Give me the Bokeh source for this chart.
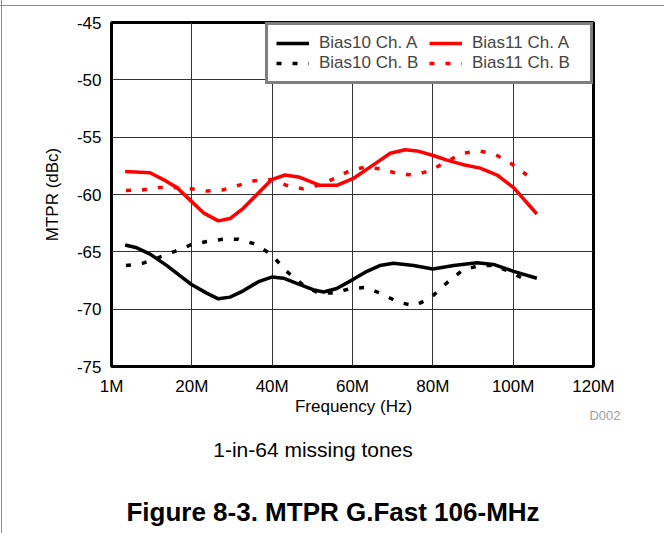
from bokeh.plotting import figure
from bokeh.models import FixedTicker, Legend, LegendItem, Label, Range1d
from bokeh.layouts import column
from bokeh.embed import file_html
from bokeh.resources import INLINE

# ---- data (frequency in MHz, MTPR in dBc) ----
b10a_x = [3.4, 6.3, 9.6, 13.8, 17.1, 19.9, 23.7, 26.6, 29.5, 32.8, 36.6, 39.9, 42.8, 46.9,
          50.2, 52.8, 56.1, 60.2, 63.6, 66.8, 70.2, 75.2, 80.0, 85.2, 91.0, 95.1, 100.1, 105.9]
b10a_y = [-64.4, -64.65, -65.2, -66.2, -67.1, -67.85, -68.6, -69.1, -68.95, -68.4, -67.6, -67.2,
          -67.3, -67.85, -68.3, -68.5, -68.2, -67.4, -66.7, -66.2, -66.0, -66.2, -66.5, -66.2,
          -65.95, -66.1, -66.7, -67.3]

b11a_x = [3.4, 9.6, 12.9, 16.3, 19.9, 22.9, 26.6, 29.5, 32.8, 36.2, 39.9, 43.2, 46.9, 51.9,
          56.1, 60.2, 66.1, 69.4, 73.1, 76.1, 80.1, 83.5, 87.6, 91.8, 96.0, 100.1, 105.9]
b11a_y = [-58.0, -58.1, -58.7, -59.4, -60.6, -61.6, -62.3, -62.1, -61.2, -60.0, -58.7, -58.3,
          -58.5, -59.2, -59.2, -58.6, -57.2, -56.4, -56.1, -56.2, -56.6, -57.0, -57.4, -57.7,
          -58.3, -59.4, -61.7]

chb_x = [3.6, 7.7, 11.7, 15.8, 19.7, 23.7, 27.7, 31.6, 35.6, 39.7, 43.6, 47.6, 51.5, 55.5,
         59.4, 63.4, 67.5, 71.4, 75.5, 79.5, 83.5, 87.4, 91.5, 95.5, 99.5, 103.4]
b10b_y = [-66.2, -66.0, -65.5, -64.95, -64.4, -64.1, -63.9, -63.9, -64.3, -65.2, -66.7, -67.85,
          -68.6, -68.6, -68.2, -68.1, -68.7, -69.4, -69.7, -69.0, -67.7, -66.6, -66.2, -66.2,
          -66.8, -67.5]
b11b_y = [-59.65, -59.6, -59.4, -59.4, -59.5, -59.7, -59.6, -59.2, -58.8, -58.7, -59.2, -59.5,
          -59.2, -58.6, -57.9, -57.6, -57.8, -58.2, -58.3, -57.9, -57.1, -56.4, -56.2, -56.5,
          -57.3, -58.3]

x_ticks = [0, 20, 40, 60, 80, 100, 120]
x_tick_labels = ["1M", "20M", "40M", "60M", "80M", "100M", "120M"]
y_ticks = [-75, -70, -65, -60, -55, -50, -45]
y_tick_labels = ["-75", "-70", "-65", "-60", "-55", "-50", "-45"]

FONT = "Liberation Sans"

p = figure(frame_width=482, frame_height=344,
           x_range=(0, 120), y_range=(-75, -45),
           output_backend="svg", toolbar_location=None,
           min_border_left=111, min_border_right=71, min_border_top=22, min_border_bottom=32)

p.outline_line_color = "black"
p.outline_line_width = 3
p.background_fill_color = "white"
p.border_fill_color = None

for ax in (p.xaxis, p.yaxis):
    ax.axis_line_color = None
    ax.major_tick_line_color = None
    ax.minor_tick_line_color = None
    ax.major_tick_out = 0
    ax.major_tick_in = 0
    ax.minor_tick_out = 0
    ax.major_label_text_font = FONT
    ax.major_label_text_font_size = "17px"
    ax.major_label_text_color = "black"
    ax.axis_label_text_font = FONT
    ax.axis_label_text_font_size = "17px"
    ax.axis_label_text_font_style = "normal"
    ax.axis_label_text_color = "black"
    ax.major_label_standoff = 10

p.xaxis.ticker = FixedTicker(ticks=x_ticks)
p.xaxis.major_label_overrides = {t: l for t, l in zip(x_ticks, x_tick_labels)}
p.yaxis.ticker = FixedTicker(ticks=y_ticks)
p.yaxis.major_label_overrides = {t: l for t, l in zip(y_ticks, y_tick_labels)}
p.yaxis.axis_label = "MTPR (dBc)"
p.yaxis.axis_label_standoff = 12

p.grid.grid_line_color = "#333333"
p.grid.grid_line_width = 1

r1 = p.line(b10a_x, b10a_y, line_color="black", line_width=3.5)
r2 = p.line(chb_x, b10b_y, line_color="black", line_width=3.5, line_dash="5 11")
r3 = p.line(b11a_x, b11a_y, line_color="#ff0000", line_width=3.5)
r4 = p.line(chb_x, b11b_y, line_color="#ff0000", line_width=3.5, line_dash="5 11")

legend = Legend(items=[
    LegendItem(label="Bias10 Ch. A", renderers=[r1]),
    LegendItem(label="Bias11 Ch. A", renderers=[r3]),
    LegendItem(label="Bias10 Ch. B", renderers=[r2]),
    LegendItem(label="Bias11 Ch. B", renderers=[r4]),
], location="top_right", orientation="horizontal", nrows=2)
legend.margin = 0
legend.padding = 8
legend.spacing = 0
legend.border_line_color = "black"
legend.border_line_width = 3
legend.label_text_font = FONT
legend.label_text_font_size = "17px"
legend.glyph_width = 33
legend.glyph_height = 18
legend.label_height = 18
legend.label_width = 110
legend.label_standoff = 10
legend.background_fill_alpha = 1
p.add_layout(legend)

# ---- caption strip below the chart (page-like pixel coordinates) ----
q = figure(width=664, height=135, x_range=Range1d(0, 664), y_range=Range1d(135, 0),
           output_backend="svg", toolbar_location=None,
           x_axis_type=None, y_axis_type=None,
           min_border=0, min_border_left=0, min_border_right=0, min_border_top=0, min_border_bottom=0)
q.outline_line_color = None
q.background_fill_color = None
q.border_fill_color = None
q.grid.visible = False

q.add_layout(Label(x=353, y=8, text="Frequency (Hz)", text_font=FONT, text_font_size="17px",
                   text_color="black", text_align="center", text_baseline="middle"))
q.add_layout(Label(x=604.5, y=17, text="D002", text_font=FONT, text_font_size="13px",
                   text_color="#a0a0a0", text_align="center", text_baseline="middle"))
q.add_layout(Label(x=312.5, y=51, text="1-in-64 missing tones", text_font=FONT,
                   text_font_size="21px", text_color="black", text_align="center",
                   text_baseline="middle"))
q.add_layout(Label(x=332.5, y=113, text="Figure 8-3. MTPR G.Fast 106-MHz", text_font=FONT,
                   text_font_size="26px", text_font_style="bold", text_color="black",
                   text_align="center", text_baseline="middle"))

page = column(p, column(q), spacing=0, styles={
    "background": "linear-gradient(#8c8c8c, #8c8c8c) 1px 0 / 1px 100% no-repeat, "
                  "linear-gradient(#8c8c8c, #8c8c8c) 0 5px / 100% 1px no-repeat, white"})

open("out.html", "w").write(file_html(page, INLINE))
